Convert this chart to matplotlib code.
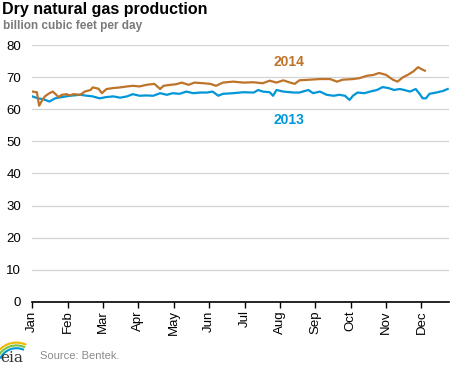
import matplotlib
matplotlib.use("Agg")
import matplotlib.pyplot as plt
from matplotlib.patches import Arc

# day of year (0 = Jan 1) and values
days_2014 = [0, 4, 6, 8, 11, 15, 18, 21, 23, 26, 30, 33, 36, 42, 46, 51, 53, 58, 61, 65,
             71, 77, 83, 88, 94, 100, 107, 112, 115, 121, 126, 131, 137, 142, 150, 156,
             161, 167, 176, 185, 194, 202, 208, 214, 220, 226, 230, 234, 243, 252, 261,
             267, 272, 281, 287, 293, 299, 304, 310, 316, 320, 325, 329, 334, 338, 341, 344]
vals_2014 = [65.5, 65.3, 61.1, 62.4, 64.0, 65.0, 65.5, 64.5, 63.8, 64.5, 64.7, 64.3, 64.7,
             64.5, 65.5, 66.0, 66.8, 66.4, 65.0, 66.3, 66.6, 66.8, 67.1, 67.3, 67.1, 67.6,
             67.9, 66.3, 67.3, 67.6, 67.8, 68.3, 67.6, 68.3, 68.1, 67.9, 67.3, 68.3, 68.6,
             68.3, 68.4, 68.1, 68.9, 68.3, 69.0, 68.3, 67.9, 69.0, 69.2, 69.4, 69.4, 68.6,
             69.2, 69.4, 69.7, 70.4, 70.7, 71.3, 70.7, 69.2, 68.6, 70.0, 70.7, 71.8, 73.1,
             72.5, 72.0]

days_2013 = [0, 5, 10, 15, 20, 26, 33, 42, 48, 53, 59, 65, 71, 77, 83, 88, 94, 100, 106,
             112, 118, 123, 129, 135, 141, 147, 153, 158, 163, 167, 176, 185, 194, 198, 202,
             208, 211, 214, 220, 229, 234, 242, 246, 252, 258, 264, 269, 274, 278, 281, 285,
             291, 296, 302, 307, 312, 317, 322, 326, 331, 336, 340, 342, 345, 348, 354, 360, 364]
vals_2013 = [64.0, 63.4, 63.1, 62.4, 63.4, 63.8, 64.2, 64.5, 64.2, 64.0, 63.4, 63.8, 64.0,
             63.6, 64.0, 64.7, 64.2, 64.3, 64.2, 65.0, 64.5, 65.0, 64.8, 65.5, 65.0, 65.2,
             65.2, 65.5, 64.2, 64.8, 65.0, 65.3, 65.2, 66.0, 65.5, 65.3, 64.2, 66.0, 65.5,
             65.2, 65.2, 66.0, 65.0, 65.5, 64.5, 64.2, 64.5, 64.2, 62.9, 64.2, 65.2, 65.0,
             65.5, 66.0, 66.9, 66.6, 66.0, 66.3, 66.0, 65.5, 66.3, 64.5, 63.4, 63.4, 64.8,
             65.2, 65.7, 66.3]

months = ["Jan", "Feb", "Mar", "Apr", "May", "Jun", "Jul", "Aug", "Sep", "Oct", "Nov", "Dec"]
month_ticks = [i * 31 for i in range(12)]
y_ticks = [0, 10, 20, 30, 40, 50, 60, 70, 80]

c2014 = "#bd732a"
c2013 = "#0096d7"
plt.rcParams["font.family"] = ["Liberation Sans", "DejaVu Sans"]

fig = plt.figure(figsize=(4.68, 3.66), dpi=100)
ax = fig.add_axes([0.069, 0.175, 0.89, 0.702])

ax.plot(days_2013, vals_2013, color=c2013, lw=1.6)
ax.plot(days_2014, vals_2014, color=c2014, lw=1.6)

ax.set_xlim(0, 365)
ax.set_ylim(0, 80)
ax.set_yticks(y_ticks)
ax.set_xticks(month_ticks)
ax.set_xticklabels(months, rotation=90, fontsize=9.5)
ax.tick_params(axis="y", length=0, labelsize=9.5, pad=8)
ax.tick_params(axis="x", length=4, width=1, direction="out", pad=2)
ax.grid(axis="y", color="#d4d4d4", lw=0.9)
ax.set_axisbelow(True)
for s in ["top", "right", "left"]:
    ax.spines[s].set_visible(False)
ax.spines["bottom"].set_linewidth(1.2)

ax.text(225, 74.8, "2014", color=c2014, fontsize=10, fontweight="bold", ha="center", va="center")
ax.text(225, 56.8, "2013", color=c2013, fontsize=10, fontweight="bold", ha="center", va="center")

fig.text(0.004, 0.995, "Dry natural gas production", fontsize=11.5, fontweight="bold",
         ha="left", va="top")
fig.text(0.006, 0.945, "billion cubic feet per day", fontsize=8.5, fontweight="bold",
         color="#7a7a7a", ha="left", va="top")
fig.text(0.085, 0.027, "Source: Bentek.", fontsize=8, color="#8a8a8a", ha="left", va="center")

# eia logo
fig.text(0.0, 0.022, "eia", fontsize=11, family="DejaVu Serif", color="#333333",
         ha="left", va="center")
for r, col in [(0.050, "#f2b700"), (0.044, "#7cc242"), (0.038, "#0096d7")]:
    fig.add_artist(Arc((0.035, 0.0), 2 * r, 2 * r * 468 / 366, theta1=70, theta2=150,
                       transform=fig.transFigure, color=col, lw=1.5))

fig.savefig("out.png", dpi=100)
